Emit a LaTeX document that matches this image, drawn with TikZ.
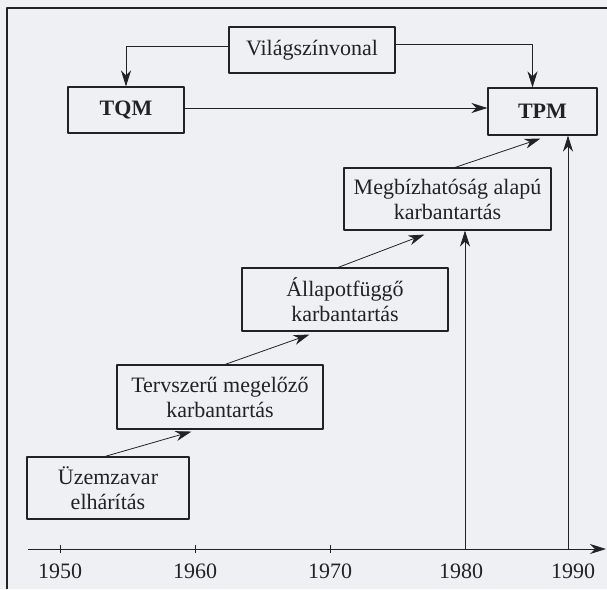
\documentclass[tikz,border=0pt]{standalone}
\usepackage{fontspec}
\setmainfont{Liberation Serif}
\usetikzlibrary{arrows.meta}

\definecolor{paper}{HTML}{EFF0F3}
\definecolor{ink}{HTML}{222226}

\begin{document}
\begin{tikzpicture}[x=1pt, y=-1pt, line join=round,
    box/.style={draw=ink, line width=1.1pt, text=ink, inner sep=0pt, align=center,
        font=\fontsize{22}{25}\selectfont},
    link/.style={draw=ink, line width=0.8pt, -{Stealth[length=16pt, width=10pt, inset=5pt]}},
    year/.style={text=ink, font=\fontsize{22}{25}\selectfont}]
    \fill [paper] (0,0) rectangle (607,589);
    \useasboundingbox (0,0) rectangle (607,589);
    \draw [ink, line width=1.8pt] (7,589) -- (7,8) -- (607,8);
    \node [box, minimum width=166pt, minimum height=46pt] (vilag) at (312,50) {Világszínvonal};
    \node [box, minimum width=116pt, minimum height=46pt] (tqm) at (126,110) {\textbf{TQM}};
    \node [box, minimum width=109pt, minimum height=47pt] (tpm) at (542.5,111.5) {\textbf{TPM}};
    \node [box, minimum width=207pt, minimum height=62pt] (megb) at (447.5,199) {Megbízhatóság alapú\\karbantartás};
    \node [box, minimum width=206pt, minimum height=63pt] (allapot) at (345,299.5) {Állapotfüggő\\karbantartás};
    \node [box, minimum width=206pt, minimum height=64pt] (terv) at (220,397) {Tervszerű megelőző\\karbantartás};
    \node [box, minimum width=162pt, minimum height=62pt] (uzem) at (108,488) {Üzemzavar\\elhárítás};
    \draw [link] ([yshift=4pt]vilag.west) -| (tqm.north);
    \draw [link] ([yshift=6pt]vilag.east) -| ([xshift=-10pt]tpm.north);
    \draw [link] ([yshift=2pt]tqm.east) -- ([yshift=2pt]tqm.east -| tpm.west);
    \draw [link] ([xshift=-3pt]uzem.north) -- ([xshift=75pt, yshift=-2pt]terv.south west);
    \draw [link] ([xshift=5pt]terv.north) -- ([xshift=68pt, yshift=-3pt]allapot.south west);
    \draw [link] ([xshift=-7pt]allapot.north) -- ([xshift=81pt, yshift=-4pt]megb.south west);
    \draw [link] ([xshift=7.5pt]megb.north) -- ([xshift=53pt, yshift=-3pt]tpm.south west);
    \coordinate (axstart) at (28,549);
    \coordinate (axend) at (606,549);
    \draw [link] (axstart) -- (axend);
    \foreach \yr/\xx in {1950/60, 1960/195, 1970/330} {
        \draw [ink, line width=0.8pt] (\xx,545) -- (\xx,553);
        \node [year] (y\yr) at (\xx,571) {\yr};
    }
    \coordinate (t1980) at (465,549);
    \coordinate (t1990) at (568,549);
    \draw [link] (t1980) -- (t1980 |- megb.south);
    \draw [link] (t1990) -- (t1990 |- tpm.south);
    \node [year] (y1980) at (461,571) {1980};
    \node [year] (y1990) at (573,571) {1990};
\end{tikzpicture}
\end{document}
